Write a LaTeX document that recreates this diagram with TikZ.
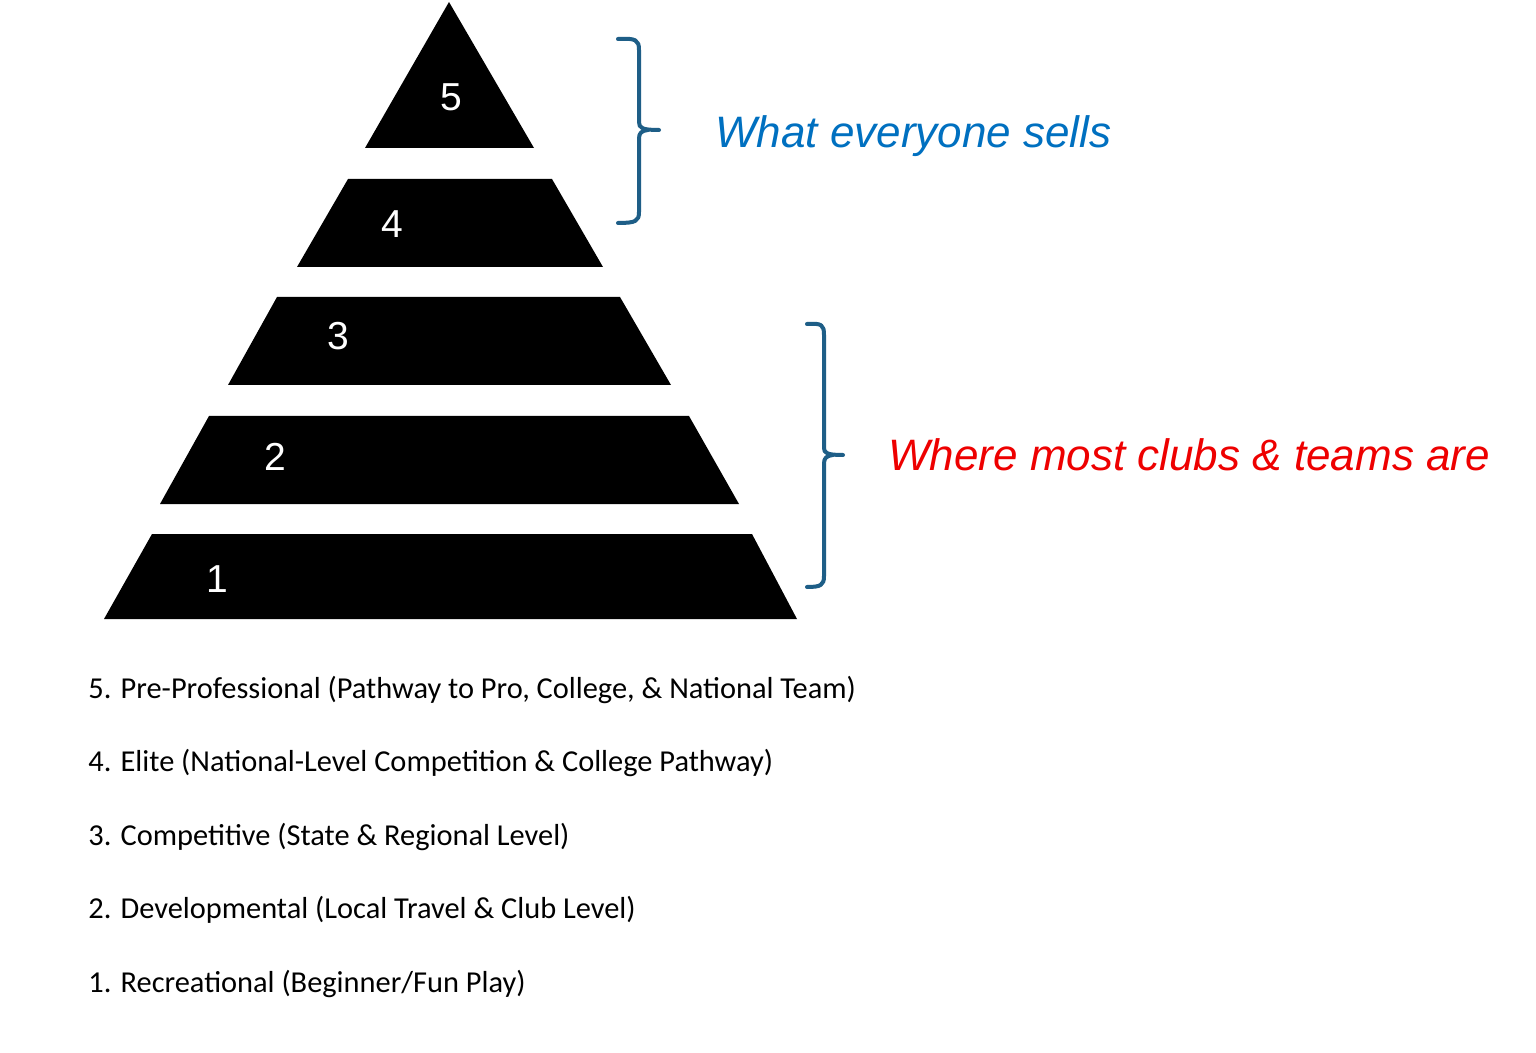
\documentclass[tikz,border=0pt]{standalone}
\usepackage{fontspec}
\setmainfont{Carlito}
\newfontfamily\hv{Liberation Sans}
\definecolor{bracecol}{RGB}{30,94,135}
\definecolor{sellblue}{RGB}{0,112,192}
\definecolor{clubred}{RGB}{238,0,0}
\tikzset{
  tier/.style={fill=black, draw=none},
  tiernum/.style={text=white, font=\hv\fontsize{19.5}{22}\selectfont, anchor=base, inner sep=0pt},
  bracket/.style={draw=bracecol, line width=2pt, line cap=round, line join=round},
  note/.style={font=\hv\itshape\fontsize{22}{26}\selectfont, anchor=base west, inner sep=0pt},
  listitem/.style={font=\fontsize{15.2}{18}\selectfont, anchor=base west, inner sep=0pt, text=black}
}
\begin{document}
\begin{tikzpicture}[x=0.5pt, y=-0.5pt]
\useasboundingbox (0,0) rectangle (1536,1053);
\fill[white] (0,0) rectangle (1536,1053);
% pyramid tiers
\path[tier] (449,2) -- (534,148) -- (365,148) -- cycle;
\path[tier] (348,179) -- (552,179) -- (603,267) -- (297,267) -- cycle;
\path[tier] (277,297) -- (620,297) -- (671,385) -- (228,385) -- cycle;
\path[tier] (209,416) -- (689,416) -- (739,504) -- (160,504) -- cycle;
\path[tier] (152,534) -- (752,534) -- (797,619) -- (104,619) -- cycle;
% tier numbers
\node[tiernum] (n5) at (451,111) {5};
\node[tiernum] (n4) at (392,238) {4};
\node[tiernum] (n3) at (338,350) {3};
\node[tiernum] (n2) at (275,470) {2};
\node[tiernum] (n1) at (217,592) {1};
% upper bracket
\draw[bracket] (618,39) .. controls (636,38) and (639,40) .. (639,50) -- (639,122) .. controls (639,128) and (642,130) .. (659,130);
\draw[bracket] (648,130) .. controls (641,131) and (639,133) .. (639,139) -- (639,212) .. controls (639,221) and (636,223) .. (618,223);
% lower bracket
\draw[bracket] (807,324) .. controls (822,323) and (824,325) .. (824,335) -- (824,448) .. controls (824,453) and (827,455) .. (843,455);
\draw[bracket] (833,455) .. controls (826,456) and (824,458) .. (824,464) -- (824,576) .. controls (824,585) and (821,587) .. (807,587);
% notes
\node[note, text=sellblue] (sells) at (715,148) {What everyone sells};
\node[note, text=clubred] (clubs) at (888,470) {Where most clubs \& teams are};
% list
\node[listitem] (l5) at (88,698) {5. Pre-Professional (Pathway to Pro, College, \& National Team)};
\node[listitem] (l4) at (88,771) {4. Elite (National-Level Competition \& College Pathway)};
\node[listitem] (l3) at (88,845) {3. Competitive (State \& Regional Level)};
\node[listitem] (l2) at (88,918) {2. Developmental (Local Travel \& Club Level)};
\node[listitem] (l1) at (88,992) {1. Recreational (Beginner/Fun Play)};
\end{tikzpicture}
\end{document}
